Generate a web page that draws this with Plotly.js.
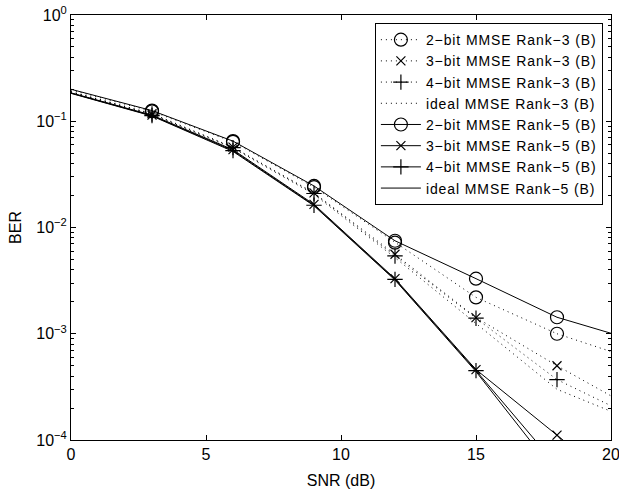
<!DOCTYPE html>
<html>
<head>
<meta charset="utf-8">
<script src="https://cdn.plot.ly/plotly-3.0.1.min.js"></script>
<style>
html,body{margin:0;padding:0;background:#fff;}
#plot{width:619px;height:492px;}
.legendtext{letter-spacing:0.9px;}
</style>
</head>
<body>
<div id="plot"></div>
<script>
// SNR points (dB)
const snr = [0, 3, 6, 9, 12, 15, 18, 20];

// BER values
const ber_2bit_r3  = [0.197, 0.124, 0.064, 0.0240, 0.0072, 0.0022, 0.00100, 0.00068];
const ber_3bit_r3  = [0.190, 0.118, 0.057, 0.0212, 0.0056, 0.00142, 0.00050, 0.00026];
const ber_4bit_r3  = [0.189, 0.117, 0.0565, 0.0209, 0.0054, 0.00140, 0.00037, 0.00021];
const ber_ideal_r3 = [0.188, 0.116, 0.056, 0.0205, 0.0052, 0.00125, 0.00030, 0.000186];
const ber_2bit_r5  = [0.200, 0.126, 0.065, 0.0246, 0.0075, 0.0033, 0.00143, 0.00101];
const ber_3bit_r5  = [0.185, 0.114, 0.054, 0.0165, 0.0033, 0.00046, 0.000111, 0.000043];
const ber_4bit_r5  = [0.184, 0.113, 0.053, 0.0162, 0.00325, 0.00045, 0.000057, 0.000018];
const ber_ideal_r5 = [0.183, 0.112, 0.052, 0.0160, 0.0032, 0.00044, 0.000047, 0.000013];

const seriesNames = [
  '2\u2212bit MMSE Rank\u22123 (B)', '3\u2212bit MMSE Rank\u22123 (B)', '4\u2212bit MMSE Rank\u22123 (B)', 'ideal MMSE Rank\u22123 (B)',
  '2\u2212bit MMSE Rank\u22125 (B)', '3\u2212bit MMSE Rank\u22125 (B)', '4\u2212bit MMSE Rank\u22125 (B)', 'ideal MMSE Rank\u22125 (B)'
];

const yTickVals = [1e-4, 1e-3, 1e-2, 1e-1, 1];
const yTickText = ['10<sup>\u22124</sup>', '10<sup>\u22123</sup>', '10<sup>\u22122</sup>', '10<sup>\u22121</sup>', '10<sup>0</sup>'];
const xTickVals = [0, 5, 10, 15, 20];

const series = [
  {y: ber_2bit_r3, sym: 'circle-open', dash: '1px,4px'},
  {y: ber_3bit_r3, sym: 'x-thin-open', dash: '1px,4px'},
  {y: ber_4bit_r3, sym: 'cross-thin-open', dash: '1px,4px'},
  {y: ber_ideal_r3, sym: null, dash: '1px,4px'},
  {y: ber_2bit_r5, sym: 'circle-open', dash: 'solid'},
  {y: ber_3bit_r5, sym: 'x-thin-open', dash: 'solid'},
  {y: ber_4bit_r5, sym: 'cross-thin-open', dash: 'solid'},
  {y: ber_ideal_r5, sym: null, dash: 'solid'}
];

const traces = [];
series.forEach((s, i) => {
  const n = snr.length;
  if (s.sym) {
    traces.push({
      x: [snr[0], snr[1], null, snr[n-2], snr[n-1]],
      y: [s.y[0], s.y[1], null, s.y[n-2], s.y[n-1]],
      mode: 'lines', showlegend: false, hoverinfo: 'skip',
      line: {color: '#000', width: 1, dash: s.dash}
    });
    traces.push({
      x: snr.slice(1, n-1), y: s.y.slice(1, n-1),
      name: seriesNames[i], mode: 'lines+markers',
      line: {color: '#000', width: 1, dash: s.dash},
      marker: {symbol: s.sym, size: s.sym === 'circle-open' ? 13 : (s.sym === 'x-thin-open' ? 9 : 11),
               color: '#000', line: {color: '#000', width: 1.2}}
    });
  } else {
    traces.push({
      x: snr, y: s.y, name: seriesNames[i], mode: 'lines',
      line: {color: '#000', width: 1, dash: s.dash}
    });
  }
});

const minorY = [];
for (let e = -4; e < 0; e++) for (let k = 2; k <= 9; k++) minorY.push(k * Math.pow(10, e));

const font = 'Liberation Sans, Arial, Helvetica, sans-serif';
const layout = {
  width: 619, height: 492,
  margin: {l: 71, r: 8, t: 15, b: 52},
  paper_bgcolor: '#fff', plot_bgcolor: '#fff',
  font: {family: font, size: 15, color: '#000'},
  showlegend: true,
  legend: {
    x: 0.985, y: 0.981, xanchor: 'right', yanchor: 'top',
    bgcolor: '#fff', bordercolor: '#000', borderwidth: 1,
    font: {family: font, size: 14, color: '#000'},
    tracegroupgap: 0, itemwidth: 40
  },
  xaxis: {
    range: [0, 20], tickvals: xTickVals, ticktext: xTickVals.map(String),
    ticks: 'inside', ticklen: 5, tickcolor: '#000', tickwidth: 1,
    showline: true, linecolor: '#000', linewidth: 1, mirror: 'allticks',
    showgrid: false, zeroline: false, ticklabeloverflow: 'allow',
    tickfont: {family: font, size: 16},
    title: {text: 'SNR (dB)', font: {family: font, size: 16}, standoff: 12}
  },
  yaxis: {
    type: 'log', range: [-4, 0], tickvals: yTickVals, ticktext: yTickText,
    ticks: 'inside', ticklen: 5, tickcolor: '#000', tickwidth: 1,
    minor: {tickvals: minorY, ticks: 'inside', ticklen: 3, tickcolor: '#000', showgrid: false},
    showline: true, linecolor: '#000', linewidth: 1, mirror: 'allticks',
    showgrid: false, zeroline: false,
    tickfont: {family: font, size: 16},
    title: {text: 'BER', font: {family: font, size: 16}, standoff: 10}
  }
};

Plotly.newPlot('plot', traces, layout, {displayModeBar: false, staticPlot: true});
</script>
</body>
</html>
